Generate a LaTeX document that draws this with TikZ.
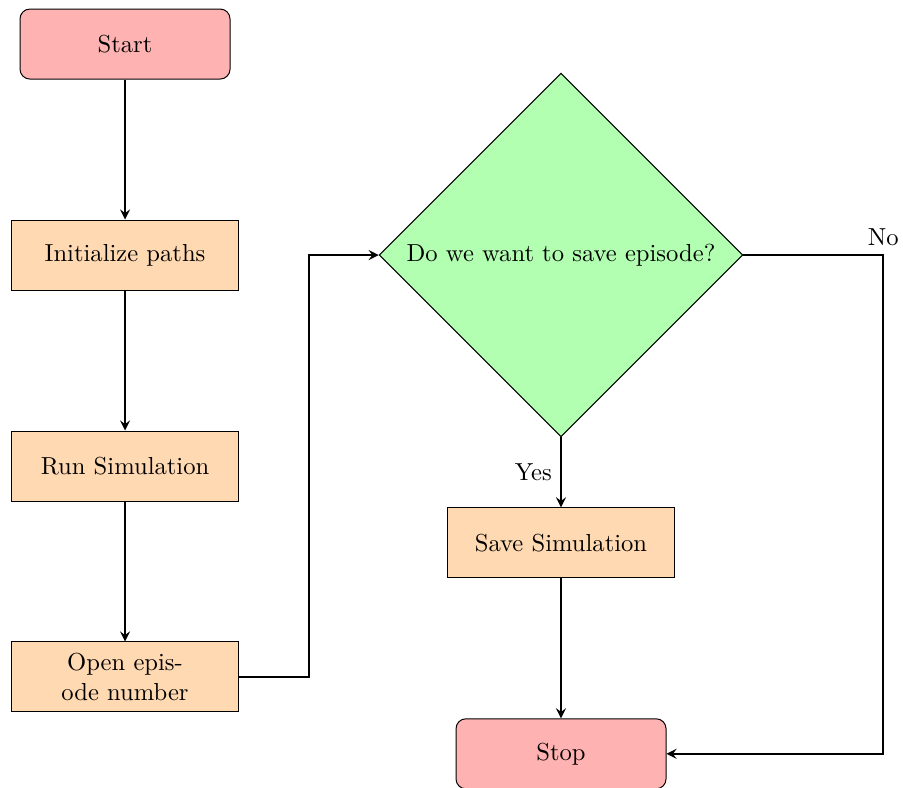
\documentclass[tikz,border=0pt]{standalone}
\usepackage{tikz}
\usetikzlibrary{positioning, shapes.geometric, arrows}

\begin{document}
\begin{tikzpicture}[
  startstop/.style={rectangle, rounded corners, draw=black, fill=red!30, minimum width=3cm, minimum height=1cm, text centered},
  process/.style={rectangle, draw=black, fill=orange!30, text width=3cm, align=center, minimum height=1cm},
  decision/.style={diamond, draw=black, fill=green!30, minimum width=3cm, minimum height=1cm, text centered},
  arrow/.style={thick, ->, >=stealth}
]

\useasboundingbox (-1.786,0.629) rectangle (11.114,-10.614);

% === NODI ===
\node[startstop] (start) {Start};
\node[process, below=2cm of start] (initpaths) {Initialize paths};
\node[process, below=2cm of initpaths] (runsim) {Run Simulation};
\node[process, below=2cm of runsim] (openep) {Open epis-\\ode number};
\node[decision, right=2cm of initpaths] (savedec) {Do we want to save episode?};
\node[process, below=1cm of savedec] (savesim) {Save Simulation};
\node[startstop, below=2cm of savesim] (stop) {Stop};

% === PUNTI DI PASSAGGIO ===
\coordinate[right=1cm of openep.east] (openout);
\coordinate[right=2cm of savedec.east] (nocorner);

% === COLLEGAMENTI ===
\draw[arrow] (start) -- (initpaths);
\draw[arrow] (initpaths) -- (runsim);
\draw[arrow] (runsim) -- (openep);
\draw[arrow] (openep.east) -- (openout) |- (savedec.west);
\draw[arrow] (savedec) -- node[left]{Yes} (savesim);
\draw[arrow] (savesim) -- (stop);
\draw[arrow] (savedec.east) -- (nocorner) node[above]{No} |- (stop.east);

\end{tikzpicture}
\end{document}
